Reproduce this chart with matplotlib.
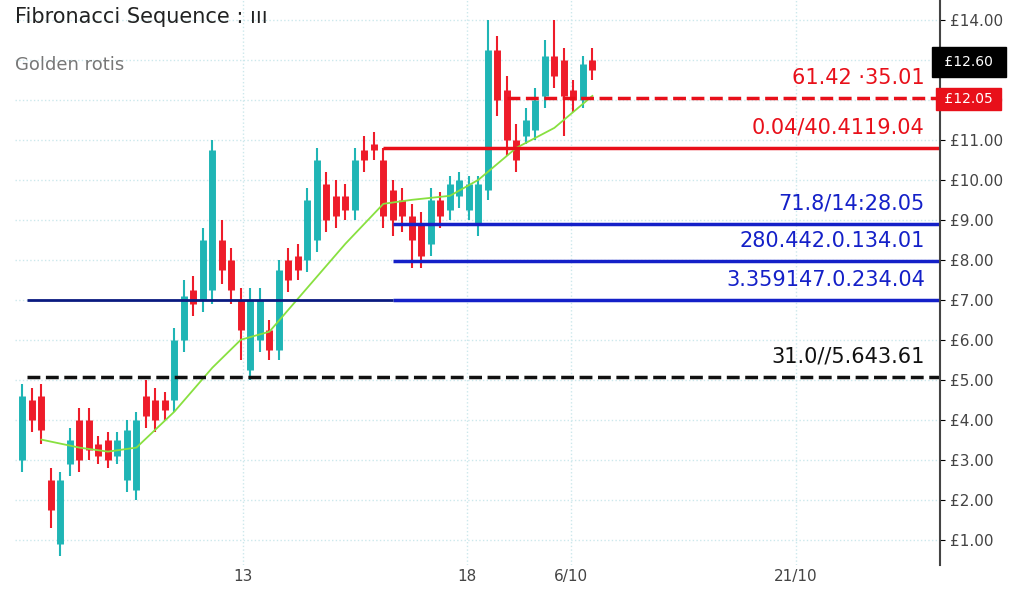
import numpy as np
import matplotlib.pyplot as plt

# candle bodies/wicks in price units, up = teal, down = red
body_hi = [4.6, 4.5, 4.6, 2.5, 2.5, 3.5, 4.0, 4.0, 3.4, 3.5, 3.5, 3.75, 4.0, 4.6, 4.5, 4.5,
           6.0, 7.1, 7.25, 8.5, 10.75, 8.5, 8.0, 7.0, 7.0, 7.0, 6.25, 7.75, 8.0, 8.1, 9.5, 10.5,
           9.9, 9.6, 9.6, 10.5, 10.75, 10.9, 10.5, 9.75, 9.5, 9.1, 8.9, 9.5, 9.5, 9.9, 10.0, 9.9,
           9.9, 13.25, 13.25, 12.25, 11.0, 11.5, 12.0, 13.1, 13.1, 13.0, 12.25, 12.9, 13.0]
body_lo = [3.0, 4.0, 3.75, 1.75, 0.9, 2.9, 3.0, 3.25, 3.1, 3.0, 3.1, 2.5, 2.25, 4.1, 4.0, 4.25,
           4.5, 6.0, 6.9, 7.0, 7.25, 7.75, 7.25, 6.25, 5.25, 6.0, 5.75, 5.75, 7.5, 7.75, 8.0, 8.5,
           9.0, 9.1, 9.25, 9.25, 10.5, 10.75, 9.1, 9.0, 9.1, 8.5, 8.1, 8.4, 9.1, 9.25, 9.6, 9.25,
           8.9, 9.75, 12.0, 11.0, 10.5, 11.1, 11.25, 12.1, 12.6, 12.1, 12.0, 12.0, 12.75]
wick_hi = [4.9, 4.8, 4.9, 2.8, 2.7, 3.8, 4.3, 4.3, 3.6, 3.7, 3.7, 4.0, 4.2, 5.0, 4.8, 4.7,
           6.3, 7.5, 7.6, 8.8, 11.0, 9.0, 8.3, 7.3, 7.3, 7.3, 6.5, 8.0, 8.3, 8.4, 9.8, 10.8,
           10.2, 10.0, 9.9, 10.8, 11.1, 11.2, 10.8, 10.0, 9.8, 9.4, 9.2, 9.8, 9.7, 10.1, 10.2, 10.1,
           10.1, 14.0, 13.6, 12.6, 11.4, 11.8, 12.3, 13.5, 14.0, 13.3, 12.5, 13.1, 13.3]
wick_lo = [2.7, 3.7, 3.4, 1.3, 0.6, 2.6, 2.7, 3.0, 2.9, 2.8, 2.9, 2.2, 2.0, 3.8, 3.7, 4.0,
           4.2, 5.7, 6.6, 6.7, 6.9, 7.4, 6.9, 5.5, 5.0, 5.7, 5.5, 5.5, 7.2, 7.5, 7.7, 8.2,
           8.7, 8.8, 9.0, 9.0, 10.2, 10.5, 8.8, 8.6, 8.7, 7.8, 7.8, 8.1, 8.8, 9.0, 9.3, 9.0,
           8.6, 9.5, 11.6, 10.6, 10.2, 10.9, 11.0, 11.8, 12.3, 11.1, 11.7, 11.8, 12.5]
up = [1, 0, 0, 0, 1, 1, 0, 0, 0, 0, 1, 1, 1, 0, 0, 0,
      1, 1, 0, 1, 1, 0, 0, 0, 1, 1, 0, 1, 0, 0, 1, 1,
      0, 0, 0, 1, 0, 0, 0, 0, 0, 0, 0, 1, 0, 1, 1, 1,
      1, 1, 0, 0, 0, 1, 1, 1, 0, 0, 0, 1, 0]

ma_x = [2, 6, 9, 12, 16, 20, 23, 26, 30, 34, 38, 41, 45, 48, 52, 56, 60]
ma_y = [3.5, 3.3, 3.2, 3.3, 4.2, 5.3, 6.0, 6.2, 7.3, 8.4, 9.4, 9.5, 9.6, 10.0, 10.8, 11.3, 12.1]

levels = [12.05, 10.8, 8.9, 7.97, 7.0, 5.07]
level_starts = [51, 38, 39, 39, 39, 0.5]
level_colors = ['#e8101a', '#e8101a', '#1420c8', '#1420c8', '#1420c8', '#111111']
level_styles = ['--', '-', '-', '-', '-', '--']
level_labels = ['61.42 ·35.01', '0.04/40.4119.04', '71.8/14:28.05',
                '280.442.0.134.01', '3.359147.0.234.04', '31.0//5.643.61']

yticks = list(range(1, 15))
ytick_labels = ['£1.00', '£2.00', '£3.00', '£4.00', '£5.00', '£6.00', '£7.00',
                '£8.00', '£9.00', '£10.00', '£11.00', '£12.00', '£13.00', '£14.00']
xticks = [23.2, 46.8, 57.7, 81.4]
xtick_labels = ['13', '18', '6/10', '21/10']

fig = plt.figure(figsize=(10.24, 6.07), dpi=100)
ax = fig.add_axes([0.015, 0.07, 0.903, 0.93])
teal, red = '#1fb5b5', '#ee1c2a'
for i in range(len(up)):
    c = teal if up[i] else red
    ax.vlines(i, wick_lo[i], wick_hi[i], color=c, lw=1.5)
    ax.vlines(i, body_lo[i], body_hi[i], color=c, lw=5)
ax.plot(ma_x, ma_y, color='#88e040', lw=1.3)

for lv, s, col, ls, lab in zip(levels, level_starts, level_colors, level_styles, level_labels):
    ax.hlines(lv, s, 96.6, color=col, ls=ls, lw=2.5)
    ax.text(95, lv + 0.25, lab, color=col, ha='right', va='bottom', fontsize=15)
ax.hlines(7.0, 0.5, 39, color='#0a1a80', lw=2)

ax.set_xlim(-0.74, 96.6)
ax.set_ylim(0.375, 14.5)
ax.yaxis.tick_right()
ax.set_yticks(yticks)
ax.set_yticklabels(ytick_labels, fontsize=11, color='#444444')
ax.set_xticks(xticks)
ax.set_xticklabels(xtick_labels, fontsize=11, color='#444444')
ax.tick_params(axis='x', length=0)
ax.grid(True, color='#cce8ec', ls=':', lw=1)
for sp in ['top', 'left', 'bottom']:
    ax.spines[sp].set_visible(False)
ax.spines['right'].set_linewidth(1.5)
ax.spines['right'].set_color('#444444')

ax.text(0.0, 0.97, 'Fibronacci Sequence : ııı', transform=ax.transAxes, fontsize=15,
        color='#222222', va='center')
ax.text(0.0, 0.885, 'Golden rotis', transform=ax.transAxes, fontsize=13,
        color='#777777', va='center')
ax.text(1.0, 12.95, ' £12.60 ', transform=ax.get_yaxis_transform(), color='white',
        fontsize=10, va='center', bbox=dict(boxstyle='square,pad=0.6', fc='black', ec='black'))
ax.text(1.0, 12.02, ' £12.05 ', transform=ax.get_yaxis_transform(), color='white',
        fontsize=10, va='center', bbox=dict(boxstyle='square,pad=0.3', fc='#e8101a', ec='#e8101a'))

fig.savefig('out.png', dpi=100)
